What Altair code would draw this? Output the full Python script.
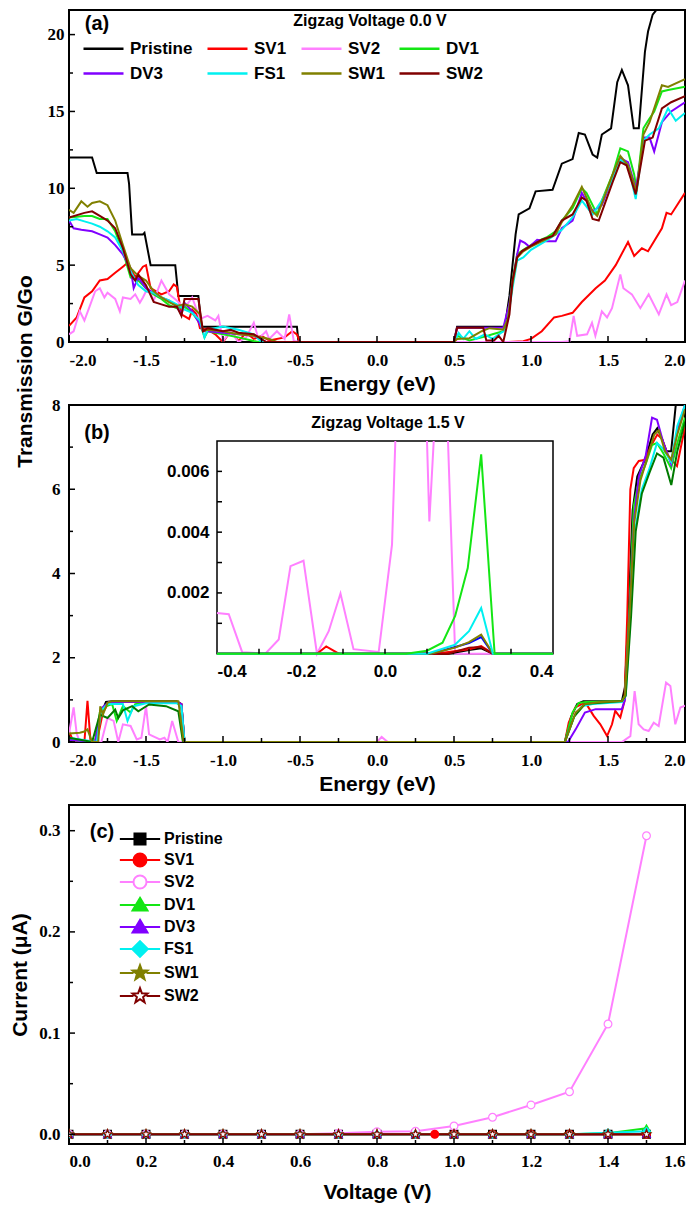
import math
import altair as alt
import pandas as pd

# ---------------- categories / colours ----------------
SERIES = ["Pristine", "SV1", "SV2", "DV1", "DV3", "FS1", "SW1", "SW2"]
COLORS_A = ["#000000", "#ff0000", "#ff80ff", "#14e614", "#8000ff", "#00f0f0", "#808000", "#800000"]
SERIES_B = ["Pristine", "SV1", "SV2", "DV1", "DV3", "FS1", "SW2", "SW1"]
COLORS_B = ["#000000", "#ff0000", "#ff80ff", "#14e614", "#8000ff", "#00f0f0", "#007a00", "#808000"]

# ---------------- panel (a): transmission at 0.0 V (energy eV, G/Go) ----------------
PRISTINE_A = [(-2.0, 12), (-1.85, 12), (-1.82, 11), (-1.62, 11), (-1.61, 10.3), (-1.59, 7), (-1.52, 7),
              (-1.51, 7.1), (-1.47, 5), (-1.31, 5), (-1.29, 3), (-1.16, 3), (-1.14, 1), (-0.52, 1), (-0.51, 0),
              (0.5, 0), (0.52, 1), (0.83, 1), (0.86, 3), (0.88, 5), (0.90, 7), (0.92, 8.3), (0.99, 8.7),
              (1.03, 9.8), (1.14, 9.9), (1.20, 11.6), (1.27, 11.9), (1.31, 13.6), (1.35, 13.5), (1.40, 12.2),
              (1.43, 12.0), (1.46, 13.5), (1.52, 13.9), (1.56, 16.9), (1.59, 17.7), (1.63, 16.7), (1.667, 13.9),
              (1.70, 13.9), (1.74, 18.9), (1.76, 20.2), (1.79, 21.3), (1.83, 21.8), (1.86, 23), (2.0, 25)]
SV1_A = [(-2.0, 1.05), (-1.95, 1.6), (-1.9, 2.9), (-1.85, 3.3), (-1.8, 4.0), (-1.75, 4.1), (-1.7, 4.5),
         (-1.65, 4.9), (-1.62, 5.15), (-1.6, 4.8), (-1.57, 4.2), (-1.52, 4.9), (-1.5, 5.0), (-1.47, 3.5),
         (-1.4, 3.1), (-1.35, 3.3), (-1.32, 3.75), (-1.3, 3.6), (-1.27, 1.8), (-1.22, 1.5), (-1.2, 2.1),
         (-1.17, 1.8), (-1.15, 0.9), (-1.1, 0.8), (-1.05, 0.5), (-1.0, 0), (-0.95, 0.7), (-0.9, 0.06),
         (-0.85, 0.6), (-0.8, 0.2), (-0.75, 0.4), (-0.7, 0.1), (-0.6, 0.3), (-0.55, 0.7), (-0.52, 0.5),
         (-0.5, 0), (0.5, 0), (0.85, 0), (0.95, 0.05), (1.0, 0.2), (1.07, 0.7), (1.15, 1.6), (1.2, 1.7),
         (1.27, 1.9), (1.33, 2.6), (1.42, 3.5), (1.48, 4.0), (1.55, 5.0), (1.63, 6.5), (1.67, 5.6),
         (1.72, 6.1), (1.76, 5.9), (1.85, 7.4), (1.88, 8.4), (1.91, 8.3), (2.0, 9.7)]
SV2_A = [(-2.0, 0.5), (-1.97, 0.7), (-1.93, 2.0), (-1.9, 1.4), (-1.87, 2.2), (-1.83, 3.3), (-1.8, 3.5),
         (-1.77, 2.9), (-1.75, 3.2), (-1.7, 2.8), (-1.67, 2.0), (-1.65, 2.9), (-1.6, 2.8), (-1.57, 3.1),
         (-1.54, 2.55), (-1.52, 2.9), (-1.5, 3.3), (-1.47, 3.2), (-1.45, 2.7), (-1.4, 4.0), (-1.35, 3.1),
         (-1.3, 2.7), (-1.25, 2.2), (-1.2, 2.9), (-1.15, 1.5), (-1.1, 1.7), (-1.05, 1.4), (-1.03, 1.7),
         (-1.0, 0.06), (-0.95, 0.7), (-0.9, 0.0), (-0.85, 0.3), (-0.8, 1.25), (-0.77, 0.2), (-0.72, 0.7),
         (-0.7, 0.2), (-0.65, 0.7), (-0.6, 0.2), (-0.57, 1.8), (-0.54, 0.06), (-0.5, 0.0), (0.5, 0),
         (1.2, 0), (1.25, 0.05), (1.277, 1.7), (1.30, 0.4), (1.364, 0.5), (1.396, 1.25), (1.418, 0.4),
         (1.46, 2.0), (1.494, 1.6), (1.526, 2.2), (1.58, 4.4), (1.60, 3.5), (1.655, 3.1), (1.71, 2.2),
         (1.764, 3.1), (1.83, 1.8), (1.88, 3.1), (1.91, 2.4), (1.95, 2.6), (2.0, 4.0)]
DV1_A = [(-2.0, 8.1), (-1.9, 8.2), (-1.85, 8.2), (-1.8, 8.0), (-1.75, 8.0), (-1.7, 7.2), (-1.65, 5.9),
         (-1.6, 4.2), (-1.55, 4.0), (-1.5, 3.5), (-1.45, 3.1), (-1.4, 2.8), (-1.35, 2.4), (-1.3, 2.2),
         (-1.25, 2.3), (-1.2, 1.9), (-1.15, 1.25), (-1.12, 0.3), (-1.1, 0.7), (-1.0, 0.5), (-0.9, 0.3),
         (-0.8, 0.06), (-0.77, 0), (0.5, 0), (0.52, 0.4), (0.6, 0.1), (0.7, 0.35), (0.75, 0.5), (0.82, 0.7),
         (0.85, 1.5), (0.88, 4.0), (0.91, 5.7), (0.95, 6.0), (1.0, 6.3), (1.05, 6.6), (1.1, 6.8),
         (1.16, 7.2), (1.2, 7.9), (1.27, 8.7), (1.33, 10.0), (1.36, 9.7), (1.43, 8.3), (1.46, 9.2),
         (1.53, 10.9), (1.58, 12.6), (1.63, 12.4), (1.67, 10.9), (1.685, 9.9), (1.73, 13.9), (1.76, 14.4),
         (1.80, 15.0), (1.85, 16.3), (1.89, 16.4), (2.0, 16.6)]
DV3_A = [(-2.0, 7.9), (-1.97, 7.4), (-1.92, 7.3), (-1.85, 7.2), (-1.8, 7.0), (-1.75, 6.8), (-1.7, 6.3),
         (-1.65, 5.7), (-1.6, 4.8), (-1.58, 3.5), (-1.55, 4.2), (-1.5, 3.5), (-1.45, 3.2), (-1.4, 2.9),
         (-1.35, 2.7), (-1.3, 2.3), (-1.27, 1.8), (-1.25, 2.55), (-1.2, 2.0), (-1.15, 1.15), (-1.13, 0.7),
         (-1.1, 0.7), (-1.0, 0.6), (-0.9, 0.5), (-0.8, 0.4), (-0.72, 0), (0.5, 0), (0.52, 0.93),
         (0.82, 0.93), (0.86, 2.5), (0.91, 5.7), (0.93, 6.6), (0.96, 6.45), (0.99, 6.2), (1.04, 6.65),
         (1.1, 6.55), (1.16, 6.55), (1.2, 7.4), (1.27, 7.9), (1.33, 9.7), (1.40, 8.5), (1.46, 8.9),
         (1.53, 10.7), (1.58, 11.96), (1.63, 11.7), (1.68, 10.0), (1.74, 13.3), (1.77, 13.3), (1.80, 12.4),
         (1.85, 14.3), (1.91, 15.0), (2.0, 15.6)]
FS1_A = [(-2.0, 7.9), (-1.95, 8.0), (-1.9, 7.85), (-1.85, 7.7), (-1.8, 7.5), (-1.75, 7.2), (-1.7, 6.8),
         (-1.65, 5.9), (-1.6, 4.6), (-1.55, 3.7), (-1.5, 3.3), (-1.45, 3.2), (-1.4, 2.9), (-1.35, 2.7),
         (-1.3, 2.45), (-1.25, 2.1), (-1.2, 1.9), (-1.15, 1.4), (-1.12, 0.3), (-1.1, 0.8), (-1.0, 1.0),
         (-0.9, 0.8), (-0.8, 0.5), (-0.75, 0), (0.5, 0), (0.53, 0.6), (0.56, 0.2), (0.6, 0.7), (0.64, 0.2),
         (0.7, 0.5), (0.75, 0.2), (0.82, 0.7), (0.85, 1.5), (0.88, 3.5), (0.91, 5.3), (0.95, 5.5),
         (1.0, 6.0), (1.1, 6.6), (1.16, 7.0), (1.2, 7.3), (1.27, 8.1), (1.33, 9.2), (1.40, 8.3), (1.46, 9.2),
         (1.53, 10.6), (1.58, 11.85), (1.63, 11.5), (1.68, 9.3), (1.73, 13.1), (1.77, 13.5), (1.83, 13.9),
         (1.89, 15.2), (1.94, 14.4), (2.0, 14.9)]
SW1_A = [(-2.0, 8.6), (-1.97, 8.4), (-1.92, 9.15), (-1.88, 8.8), (-1.85, 9.05), (-1.8, 9.15), (-1.75, 8.9),
         (-1.7, 7.9), (-1.65, 6.3), (-1.6, 4.8), (-1.55, 4.3), (-1.5, 4.0), (-1.45, 3.3), (-1.4, 2.9),
         (-1.35, 2.6), (-1.3, 2.35), (-1.25, 2.45), (-1.2, 2.3), (-1.15, 1.8), (-1.13, 0.7), (-1.1, 0.8),
         (-1.0, 0.7), (-0.9, 0.5), (-0.8, 0.4), (-0.7, 0.2), (-0.65, 0), (0.5, 0), (0.52, 0.2), (0.6, 0.25),
         (0.68, 0.7), (0.73, 0.9), (0.78, 0.85), (0.82, 0.8), (0.85, 1.5), (0.88, 3.8), (0.91, 5.5),
         (0.95, 5.9), (1.0, 6.2), (1.1, 6.7), (1.16, 7.0), (1.2, 7.8), (1.27, 8.9), (1.33, 10.1),
         (1.40, 8.5), (1.43, 8.2), (1.53, 10.9), (1.58, 12.1), (1.63, 11.5), (1.685, 9.8), (1.73, 13.5),
         (1.77, 14.3), (1.85, 16.7), (1.89, 16.6), (2.0, 17.1)]
SW2_A = [(-2.0, 8.1), (-1.9, 8.4), (-1.85, 8.5), (-1.8, 8.2), (-1.75, 7.9), (-1.7, 7.4), (-1.65, 6.1),
         (-1.6, 4.4), (-1.57, 4.0), (-1.55, 4.4), (-1.5, 3.7), (-1.45, 2.6), (-1.4, 2.45), (-1.35, 2.3),
         (-1.3, 2.3), (-1.27, 1.7), (-1.25, 2.8), (-1.16, 2.8), (-1.13, 0.7), (-1.1, 0.9), (-1.0, 0.7),
         (-0.95, 0.8), (-0.9, 0.6), (-0.8, 0.5), (-0.72, 0), (0.5, 0), (0.52, 0.93), (0.69, 0.93),
         (0.71, 0.1), (0.76, 0.1), (0.79, 0.4), (0.82, 0), (0.86, 1.8), (0.88, 4.0), (0.91, 5.5),
         (0.94, 5.9), (0.99, 6.2), (1.07, 6.65), (1.14, 6.9), (1.2, 7.9), (1.27, 8.3), (1.33, 9.4),
         (1.36, 9.2), (1.40, 8.0), (1.44, 7.9), (1.53, 10.4), (1.58, 11.7), (1.62, 11.5), (1.68, 9.6),
         (1.74, 13.1), (1.79, 13.3), (1.85, 15.2), (1.91, 15.6), (2.0, 16.0)]

# ---------------- panel (b): transmission at 1.5 V ----------------
PRISTINE_B = [(-2.0, 0.05), (-1.83, 0), (-1.8, 0.6), (-1.76, 0.95), (-1.72, 0.97), (-1.3, 0.97), (-1.27, 0.9),
              (-1.25, 0), (1.22, 0), (1.26, 0.6), (1.30, 0.9), (1.34, 0.97), (1.59, 0.97), (1.61, 1.3),
              (1.635, 3.2), (1.66, 5.5), (1.69, 6.3), (1.74, 6.7), (1.79, 7.3), (1.82, 7.45), (1.85, 7.2),
              (1.88, 6.9), (1.91, 6.9), (1.94, 8.0), (1.96, 8.6), (2.0, 9.0)]
SV1_B = [(-2.0, 0.25), (-1.97, 0), (-1.9, 0), (-1.88, 0.98), (-1.86, 0), (-1.82, 0), (-1.78, 0.7),
         (-1.74, 0.95), (-1.3, 0.95), (-1.27, 0.9), (-1.25, 0), (1.22, 0), (1.245, 0.46), (1.288, 0.82),
         (1.353, 0.94), (1.407, 0.62), (1.45, 0.42), (1.494, 0.14), (1.526, 0.42), (1.547, 0.74),
         (1.58, 0.58), (1.607, 0.97), (1.625, 3.0), (1.645, 6.0), (1.667, 6.5), (1.70, 6.67), (1.743, 6.7),
         (1.775, 7.0), (1.82, 7.3), (1.85, 7.2), (1.89, 6.8), (1.948, 6.55), (1.99, 7.3), (2.0, 7.6)]
SV2_B = [(-2.0, 0.2), (-1.97, 0.82), (-1.95, 0.2), (-1.93, 0), (-1.79, 0), (-1.75, 0.57), (-1.71, 0.5),
         (-1.68, 0), (-1.65, 0.42), (-1.6, 0.38), (-1.56, 0.06), (-1.53, 0.1), (-1.5, 0.85), (-1.48, 0.18),
         (-1.41, 0.06), (-1.38, 0.1), (-1.36, 0), (-1.33, 0.5), (-1.29, 0), (0.0, 0), (0.03, 0.12),
         (0.07, 0), (1.59, 0), (1.645, 0.14), (1.673, 1.21), (1.699, 0.42), (1.732, 0.30), (1.764, 0.26),
         (1.797, 0.46), (1.829, 0.38), (1.877, 1.41), (1.905, 1.33), (1.937, 0.42), (1.97, 0.82), (2.0, 0.86)]
DV1_B = [(-2.0, 0.05), (-1.83, 0), (-1.8, 0.7), (-1.76, 0.85), (-1.72, 0.9), (-1.69, 0.5), (-1.65, 0.85),
         (-1.6, 0.7), (-1.57, 0.9), (-1.5, 0.93), (-1.3, 0.93), (-1.27, 0.85), (-1.25, 0), (1.22, 0),
         (1.27, 0.7), (1.31, 0.93), (1.36, 0.95), (1.59, 0.97), (1.61, 1.1), (1.64, 3.2), (1.667, 5.6),
         (1.70, 6.2), (1.745, 6.6), (1.786, 7.05), (1.818, 7.1), (1.86, 6.85), (1.91, 6.5), (1.95, 7.1),
         (2.0, 7.7)]
DV3_B = [(-2.0, 0.05), (-1.83, 0), (-1.79, 0.8), (-1.74, 0.95), (-1.3, 0.95), (-1.27, 0.9), (-1.25, 0),
         (1.24, 0), (1.29, 0.3), (1.35, 0.7), (1.42, 0.78), (1.59, 0.78), (1.61, 1.0), (1.64, 3.0),
         (1.67, 5.3), (1.70, 6.3), (1.745, 6.8), (1.786, 7.7), (1.818, 7.65), (1.86, 7.1), (1.91, 6.6),
         (1.95, 7.4), (2.0, 8.0)]
FS1_B = [(-2.0, 0.1), (-1.82, 0), (-1.79, 0.75), (-1.75, 0.9), (-1.65, 0.9), (-1.62, 0.5), (-1.58, 0.85),
         (-1.5, 0.92), (-1.3, 0.92), (-1.27, 0.85), (-1.25, 0), (1.22, 0), (1.28, 0.6), (1.33, 0.85),
         (1.40, 0.9), (1.59, 0.95), (1.615, 1.1), (1.645, 3.0), (1.675, 5.0), (1.72, 6.0), (1.77, 6.5),
         (1.818, 7.1), (1.86, 6.95), (1.91, 6.65), (1.95, 7.5), (2.0, 8.0)]
SW2_B = [(-2.0, 0.1), (-1.85, 0), (-1.8, 0.65), (-1.75, 0.57), (-1.7, 0.77), (-1.68, 0.57), (-1.65, 0.75),
         (-1.59, 0.85), (-1.55, 0.73), (-1.48, 0.89), (-1.37, 0.85), (-1.29, 0.73), (-1.26, 0), (1.22, 0),
         (1.28, 0.6), (1.35, 0.9), (1.59, 0.97), (1.615, 1.1), (1.65, 3.0), (1.68, 5.0), (1.72, 5.9),
         (1.77, 6.4), (1.818, 6.85), (1.86, 6.75), (1.911, 6.1), (1.95, 6.9), (2.0, 7.6)]
SW1_B = [(-2.0, 0.2), (-1.93, 0.22), (-1.9, 0.25), (-1.88, 0.3), (-1.85, 0), (-1.81, 0), (-1.797, 0.85),
         (-1.78, 0.65), (-1.75, 0.93), (-1.72, 0.97), (-1.29, 0.97), (-1.255, 0), (1.22, 0), (1.29, 0.7),
         (1.35, 0.9), (1.45, 0.95), (1.59, 0.97), (1.61, 1.1), (1.64, 3.0), (1.67, 5.2), (1.71, 6.2),
         (1.76, 6.8), (1.80, 7.3), (1.83, 7.4), (1.87, 6.9), (1.91, 6.7), (1.95, 7.3), (2.0, 7.9)]

# ---------------- inset of (b): -0.4..0.4 eV ----------------
INSET_NAMES = ["SV2", "Black", "Red", "Maroon", "Blue", "Olive", "Cyan", "Green"]
INSET_COLORS = ["#ff80ff", "#000000", "#ff0000", "#a00000", "#0000ff", "#808000", "#00f0f0", "#14e614"]
INSET_SV2 = [  # (energy, transmission, segment)
    (-0.40, 0.00134, 1), (-0.372, 0.0013, 1), (-0.34, 0.00005, 1), (-0.285, 0.0, 1), (-0.253, 0.00047, 1),
    (-0.225, 0.00288, 1), (-0.194, 0.00306, 1), (-0.162, 0.0, 1), (-0.134, 0.00074, 1), (-0.106, 0.00198, 1),
    (-0.075, 0.00015, 1), (-0.015, 0.00006, 1), (0.0167, 0.00359, 1), (0.0246, 0.007, 1),
    (0.1, 0.007, 2), (0.1056, 0.00435, 2), (0.116, 0.007, 2),
    (0.15, 0.007, 3), (0.167, 0.0, 3), (0.4, 0.0, 3)]
INSET_BLACK = [(-0.4, 0), (0.15, 0), (0.2, 0.00012), (0.229, 0.00018), (0.257, 0), (0.4, 0)]
INSET_RED = [(-0.4, 0), (-0.162, 0), (-0.14, 0.00024), (-0.11, 0), (0.12, 0), (0.2, 0.00015),
             (0.229, 0.00025), (0.257, 0), (0.4, 0)]
INSET_MAROON = [(-0.4, 0), (0.15, 0), (0.2, 0.0002), (0.229, 0.00022), (0.257, 0), (0.4, 0)]
INSET_BLUE = [(-0.4, 0), (0.11, 0), (0.167, 0.00022), (0.2, 0.00035), (0.229, 0.00055), (0.257, 0), (0.4, 0)]
INSET_OLIVE = [(-0.4, 0), (0.11, 0), (0.167, 0.0002), (0.2, 0.00038), (0.229, 0.00063), (0.257, 0), (0.4, 0)]
INSET_CYAN = [(-0.4, 0), (0.1, 0), (0.167, 0.0003), (0.2, 0.00074), (0.229, 0.0015), (0.257, 0), (0.4, 0)]
INSET_GREEN = [(-0.4, 0), (0.05, 0), (0.1, 0.0001), (0.137, 0.00036), (0.167, 0.00124), (0.197, 0.00282),
               (0.229, 0.00656), (0.261, 0), (0.4, 0)]

# ---------------- panel (c): I-V ----------------
VOLTS = [0.0, 0.1, 0.2, 0.3, 0.4, 0.5, 0.6, 0.7, 0.8, 0.9, 1.0, 1.1, 1.2, 1.3, 1.4, 1.5]
VOLTS_SV1 = [0.0, 0.1, 0.2, 0.3, 0.4, 0.5, 0.6, 0.7, 0.8, 0.9, 0.95, 1.0, 1.1, 1.2, 1.3, 1.4, 1.5]
I_PRISTINE = [0, 0, 0, 0, 0, 0, 0, 0, 0, 0, 0, 0, 0, 0, 0, 0]
I_SV1 = [0, 0, 0, 0, 0, 0, 0, 0, 0, 0, 0, 0, 0, 0, 0, 0, 0]
I_SV2 = [0, 0, 0, 0, 0, 0, 0, 0.001, 0.0026, 0.003, 0.0082, 0.0168, 0.029, 0.042, 0.109, 0.295]
I_DV1 = [0, 0, 0, 0, 0, 0, 0, 0, 0, 0, 0, 0, 0, 0, 0.001, 0.006]
I_DV3 = [0, 0, 0, 0, 0, 0, 0, 0, 0, 0, 0, 0, 0, 0, 0, 0.0005]
I_FS1 = [0, 0, 0, 0, 0, 0, 0, 0, 0, 0, 0, 0, 0, 0, 0.0015, 0.003]
I_SW1 = [0, 0, 0, 0, 0, 0, 0, 0, 0, 0, 0, 0, 0, 0, 0, 0]
I_SW2 = [0, 0, 0, 0, 0, 0, 0, 0, 0, 0, 0, 0, 0, 0, 0, 0]

# ---------------- tick positions ----------------
E_MAJOR = [-2.0, -1.5, -1.0, -0.5, 0.0, 0.5, 1.0, 1.5, 2.0]
E_MINOR = [-1.75, -1.25, -0.75, -0.25, 0.25, 0.75, 1.25, 1.75]
TA_MAJOR = [0, 5, 10, 15, 20]
TA_MINOR = [2.5, 7.5, 12.5, 17.5]
TB_MAJOR = [0, 2, 4, 6, 8]
TB_MINOR = [1, 3, 5, 7]
EI_MAJOR = [-0.4, -0.2, 0.0, 0.2, 0.4]
EI_TICKS = [-0.3, -0.2, -0.1, 0.0, 0.1, 0.2, 0.3]
TI_MAJOR = [0.002, 0.004, 0.006]
TI_TICKS = [0.001, 0.002, 0.003, 0.004, 0.005, 0.006]
V_MAJOR = [0.0, 0.2, 0.4, 0.6, 0.8, 1.0, 1.2, 1.4, 1.6]
V_MINOR = [0.1, 0.3, 0.5, 0.7, 0.9, 1.1, 1.3, 1.5]
C_MAJOR = [0.0, 0.1, 0.2, 0.3]
C_MINOR = [0.05, 0.15, 0.25]

# ---------------- layout ----------------
W = 616
HA, HB, HC = 332, 337, 339
INSET_X = [148, 484]
INSET_Y = [248.7, 36]
SANS = "Liberation Sans, Arial, sans-serif"
SERIF = "Liberation Serif, Times New Roman, serif"
MINUS = "replace(datum.label, '\u2212', '-')"


def long_df(names, datasets, xname, yname):
    rows = []
    for n, pts in zip(names, datasets):
        for p in pts:
            rows.append({"series": n, xname: p[0], yname: p[1]})
    return pd.DataFrame(rows)


def rules_x(values, xenc, h, length):
    df = pd.DataFrame({xenc.shorthand.split(":")[0]: values})
    return alt.Chart(df).mark_rule(color="black", strokeWidth=1.5).encode(
        x=xenc, y=alt.value(h), y2=alt.value(h - length))


def rules_y(values, yenc, x0, length):
    df = pd.DataFrame({yenc.shorthand.split(":")[0]: values})
    return alt.Chart(df).mark_rule(color="black", strokeWidth=1.5).encode(
        y=yenc, x=alt.value(x0), x2=alt.value(x0 + length))


def label(text, x, y, size, weight="bold", font=SANS):
    return alt.Chart(pd.DataFrame({"txt": [text]})).mark_text(
        font=font, fontSize=size, fontWeight=weight, color="black", align="center", baseline="middle"
    ).encode(text="txt:N", x=alt.value(x), y=alt.value(y))


def axis(**kw):
    base = dict(labelFont=SERIF, labelFontWeight="bold", labelFontSize=17, labelColor="black",
                titleFont=SANS, titleFontWeight="bold", titleFontSize=21, titleColor="black",
                domain=False, ticks=False, grid=False)
    base.update(kw)
    return alt.Axis(**base)


# ================= panel (a) =================
df_a = long_df(SERIES, [PRISTINE_A, SV1_A, SV2_A, DV1_A, DV3_A, FS1_A, SW1_A, SW2_A], "E", "T")
xA = alt.X("E:Q", scale=alt.Scale(domain=[-2, 2], nice=False, zero=False),
           axis=axis(values=E_MAJOR, format=".1f", labelExpr=MINUS, title="Energy (eV)",
                     labelPadding=10, titlePadding=5))
yA = alt.Y("T:Q", scale=alt.Scale(domain=[0, 21.6], nice=False, zero=False),
           axis=axis(values=TA_MAJOR, format="d", title=None, labelPadding=5))
legend_a = alt.Legend(orient="none", legendX=23, legendY=27, columns=4, direction="horizontal", title=None,
                      symbolType="M-2,0H2", symbolSize=400, symbolStrokeWidth=2.5,
                      labelFont=SANS, labelFontSize=17, labelFontWeight="bold", labelColor="black",
                      labelOffset=15, rowPadding=5, columnPadding=9, padding=0)
color_a = alt.Color("series:N", scale=alt.Scale(domain=SERIES, range=COLORS_A), legend=legend_a)
lines_a_pristine = alt.Chart(df_a[df_a["series"] == "Pristine"]).mark_line(strokeWidth=2, clip=True).encode(
    x=xA, y=yA, color=color_a)
lines_a_defects = alt.Chart(df_a[df_a["series"] != "Pristine"]).mark_line(strokeWidth=2, clip=True).encode(
    x=xA, y=yA, color=color_a)
panel_a = alt.layer(
    lines_a_pristine, lines_a_defects,
    rules_x(E_MAJOR, xA, HA, 6), rules_x(E_MINOR, xA, HA, 4),
    rules_y(TA_MAJOR, yA, 0, 6), rules_y(TA_MINOR, yA, 0, 4),
    label("(a)", 28, 14, 20),
    label("Zigzag Voltage 0.0 V", 301, 11, 16),
).properties(width=W, height=HA)

# ================= panel (b) =================
df_b = long_df(SERIES_B, [PRISTINE_B, SV1_B, SV2_B, DV1_B, DV3_B, FS1_B, SW2_B, SW1_B], "E", "T")
xB = alt.X("E:Q", scale=alt.Scale(domain=[-2, 2], nice=False, zero=False),
           axis=axis(values=E_MAJOR, format=".1f", labelExpr=MINUS, title="Energy (eV)",
                     labelPadding=10, titlePadding=5))
yB = alt.Y("T:Q", scale=alt.Scale(domain=[0, 8], nice=False, zero=False),
           axis=axis(values=TB_MAJOR, format="d", title="Transmission G/Go", labelPadding=9,
                     titleX=-34, titleY=-34, titleFontSize=21))
lines_b = alt.Chart(df_b).mark_line(strokeWidth=2, clip=True).encode(
    x=xB, y=yB,
    color=alt.Color("series:N", scale=alt.Scale(domain=SERIES_B, range=COLORS_B), legend=None))
main_b = alt.layer(
    lines_b,
    rules_x(E_MAJOR, xB, HB, 6), rules_x(E_MINOR, xB, HB, 4),
    rules_y(TB_MAJOR, yB, 0, 6), rules_y(TB_MINOR, yB, 0, 4),
    label("(b)", 28, 28, 20),
    label("Zigzag Voltage 1.5 V", 319, 18, 16),
)

inset_rows = []
for n, pts in zip(INSET_NAMES, [INSET_SV2, INSET_BLACK, INSET_RED, INSET_MAROON, INSET_BLUE,
                                INSET_OLIVE, INSET_CYAN, INSET_GREEN]):
    for p in pts:
        inset_rows.append({"s2": n, "e2": p[0], "t2": p[1], "seg": p[2] if len(p) > 2 else 1})
df_i = pd.DataFrame(inset_rows)
xI = alt.X("e2:Q", scale=alt.Scale(domain=[-0.4, 0.4], range=INSET_X, nice=False, zero=False),
           axis=axis(orient="bottom", offset=-(HB - INSET_Y[0]), values=EI_MAJOR, format=".1f",
                     labelExpr=MINUS, title=None, labelFont=SANS, labelFontSize=17, labelPadding=10))
yI = alt.Y("t2:Q", scale=alt.Scale(domain=[0, 0.007], range=INSET_Y, nice=False, zero=False),
           axis=axis(orient="left", offset=-INSET_X[0], values=TI_MAJOR, format=".3f", title=None,
                     labelFont=SANS, labelFontSize=17, labelPadding=8))
frame_i = alt.Chart(pd.DataFrame({"e2": [-0.4], "e2b": [0.4], "t2": [0.0], "t2b": [0.007]})).mark_rect(
    fill="white", stroke="black", strokeWidth=1.5).encode(x=xI, x2="e2b:Q", y=yI, y2="t2b:Q")
lines_i = alt.Chart(df_i).mark_line(strokeWidth=2).encode(
    x=xI, y=yI, detail="seg:N",
    color=alt.Color("s2:N", scale=alt.Scale(domain=INSET_NAMES, range=INSET_COLORS), legend=None))
inset = alt.layer(
    frame_i, lines_i,
    rules_x(EI_TICKS, xI, INSET_Y[0], 5),
    rules_y(TI_TICKS, yI, INSET_X[0], 5),
)
panel_b = alt.layer(main_b, inset).resolve_scale(
    x="independent", y="independent", color="independent").properties(width=W, height=HB)

# ================= panel (c) =================
c_rows = []
for n, vs, cur in zip(SERIES, [VOLTS, VOLTS_SV1, VOLTS, VOLTS, VOLTS, VOLTS, VOLTS, VOLTS],
                      [I_PRISTINE, I_SV1, I_SV2, I_DV1, I_DV3, I_FS1, I_SW1, I_SW2]):
    for v, i in zip(vs, cur):
        c_rows.append({"series": n, "V": v, "I": i})
df_c = pd.DataFrame(c_rows)


def star_path(R, r):
    pts = []
    for k in range(10):
        ang = -math.pi / 2 + k * math.pi / 5
        rad = R if k % 2 == 0 else r
        pts.append((rad * math.cos(ang), rad * math.sin(ang)))
    return "M" + "L".join(f"{x:.3f},{y:.3f}" for x, y in pts) + "Z"


STAR = star_path(1.15, 0.48)
PT_SHAPES = ["square", "circle", "circle", "triangle-up", "triangle-up", "diamond", STAR, STAR]
PT_FILLS = ["#000000", "#ff0000", "#ffffff", "#14e614", "#8000ff", "#00f0f0", "#808000", "#ffffff"]


def stub(a):
    return f"M-3.1,0H{-a}M{a},0H3.1"


CIRCLE = "M1,0A1,1,0,1,1,-1,0A1,1,0,1,1,1,0Z"
LEG_PATHS = [
    stub(0.85) + "M-0.85,-0.85H0.85V0.85H-0.85Z",
    stub(1) + CIRCLE,
    stub(1) + CIRCLE,
    stub(0.6) + "M0,-1.1L1.15,0.85H-1.15Z",
    stub(0.6) + "M0,-1.1L1.15,0.85H-1.15Z",
    stub(1.2) + "M0,-1.2L1.2,0L0,1.2L-1.2,0Z",
    stub(1.0) + star_path(1.2, 0.5),
    stub(1.0) + star_path(1.2, 0.5),
]

xC = alt.X("V:Q", scale=alt.Scale(domain=[0, 1.6], nice=False, zero=False),
           axis=axis(values=V_MAJOR, format=".1f", title="Voltage (V)", labelPadding=9, titlePadding=12))
yC = alt.Y("I:Q", scale=alt.Scale(domain=[-0.0096, 0.3254], nice=False, zero=False),
           axis=axis(values=C_MAJOR, format=".1f", title="Current (\u03bcA)", labelPadding=9,
                     titleX=-39))
lines_c = alt.Chart(df_c).mark_line(strokeWidth=2, clip=True).encode(
    x=xC, y=yC,
    color=alt.Color("series:N", scale=alt.Scale(domain=SERIES, range=COLORS_A), legend=None))
pts_c = alt.Chart(df_c).mark_point(opacity=1, fillOpacity=1, size=60, strokeWidth=1.2, clip=True).encode(
    x=xC, y=yC,
    shape=alt.Shape("series:N", scale=alt.Scale(domain=SERIES, range=PT_SHAPES), legend=None),
    fill=alt.Fill("series:N", scale=alt.Scale(domain=SERIES, range=PT_FILLS), legend=None),
    stroke=alt.Stroke("series:N", scale=alt.Scale(domain=SERIES, range=COLORS_A), legend=None))
legend_c = alt.Legend(orient="none", legendX=63, legendY=26, title=None, direction="vertical",
                      symbolSize=169, symbolStrokeWidth=2, labelFont=SANS, labelFontSize=16,
                      labelFontWeight="bold", labelColor="black", labelOffset=16, rowPadding=0, padding=0)
leg_c = alt.Chart(pd.DataFrame({"leg": SERIES, "V": [-1.0] * 8, "I": [0.1] * 8})).mark_point(
    opacity=1, fillOpacity=1, clip=True).encode(
    x=xC, y=yC,
    shape=alt.Shape("leg:N", scale=alt.Scale(domain=SERIES, range=LEG_PATHS), legend=legend_c),
    fill=alt.Fill("leg:N", scale=alt.Scale(domain=SERIES, range=PT_FILLS), legend=legend_c),
    stroke=alt.Stroke("leg:N", scale=alt.Scale(domain=SERIES, range=COLORS_A), legend=legend_c))
panel_c = alt.layer(
    lines_c, pts_c, leg_c,
    rules_x(V_MAJOR, xC, HC, 6), rules_x(V_MINOR, xC, HC, 4),
    rules_y(C_MAJOR, yC, 0, 6), rules_y(C_MINOR, yC, 0, 4),
    label("(c)", 33, 27, 20),
).resolve_scale(shape="independent", fill="independent", stroke="independent").properties(width=W, height=HC)

chart = alt.vconcat(panel_a, panel_b, panel_c, spacing=63, bounds="flush").properties(
    padding={"left": 0, "top": 1, "right": 0, "bottom": 0}
).configure_view(stroke="black", strokeWidth=2).configure_axis(
    labelFont=SERIF, labelFontWeight="bold", labelFontSize=17, labelColor="black",
    titleFont=SANS, titleFontWeight="bold", titleFontSize=21, titleColor="black",
    domain=False, ticks=False, grid=False)

chart.save("out.html", embed_options={"renderer": "svg", "actions": False})
